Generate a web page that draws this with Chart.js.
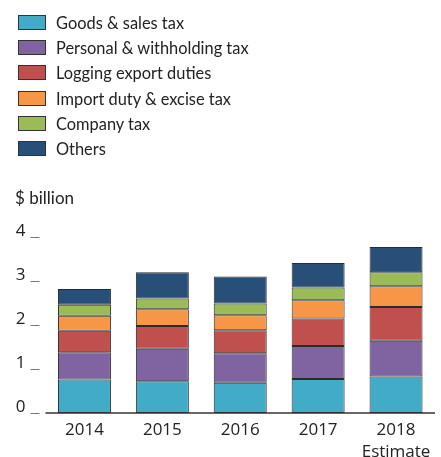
<!DOCTYPE html>
<html>
<head>
<meta charset="utf-8">
<script src="https://cdn.jsdelivr.net/npm/chart.js@4.4.1/dist/chart.umd.min.js"></script>
<style>
  html, body { margin: 0; padding: 0; background: #fff; }
  #wrap { position: relative; width: 441px; height: 457px; }
  #chart { position: absolute; left: 0; top: 0; }
  #legend { position: absolute; left: 18px; top: 10px; margin: 0; padding: 0; list-style: none;
    font-family: Lato, "Open Sans", sans-serif; font-size: 16.4px; color: #222; }
  #legend li { display: flex; align-items: center; height: 25.2px; line-height: 25.2px; }
  #legend span.box { display: inline-block; width: 28px; height: 15px; border: 1px solid #333;
    margin-right: 10px; box-sizing: border-box; }
  #unit { position: absolute; left: 15px; top: 187px; font-family: Lato, "Open Sans", sans-serif;
    font-size: 17px; color: #222; }
</style>
</head>
<body>
<div id="wrap">
  <canvas id="chart" width="441" height="457"></canvas>
  <ul id="legend"></ul>
  <div id="unit">$ billion</div>
</div>
<script>
// ---------- data ($ billion) ----------
const YEARS = ["2014", "2015", "2016", "2017", ["2018", "Estimate"]];
const Y_TICKS = [0, 1, 2, 3, 4];

const goodsSales = [0.76, 0.72, 0.69, 0.77, 0.83];
const personalWithholding = [0.62, 0.74, 0.67, 0.75, 0.81];
const loggingExport = [0.49, 0.52, 0.52, 0.63, 0.77];
const importExcise = [0.34, 0.38, 0.34, 0.41, 0.47];
const companyTax = [0.25, 0.24, 0.27, 0.29, 0.32];
const others = [0.36, 0.60, 0.61, 0.56, 0.57];

const SERIES = [
  { label: "Goods & sales tax", data: goodsSales, color: "#42abc7" },
  { label: "Personal & withholding tax", data: personalWithholding, color: "#8064a2" },
  { label: "Logging export duties", data: loggingExport, color: "#c0504d" },
  { label: "Import duty & excise tax", data: importExcise, color: "#f79646" },
  { label: "Company tax", data: companyTax, color: "#9bbb59" },
  { label: "Others", data: others, color: "#274f77" },
];

const NUM_FONT = { family: "'Open Sans', sans-serif", size: 17, lineHeight: 1.3 };

// legend list in the top-left corner
const legendEl = document.getElementById("legend");
SERIES.forEach((s) => {
  const li = document.createElement("li");
  const box = document.createElement("span");
  box.className = "box";
  box.style.background = s.color;
  li.appendChild(box);
  li.appendChild(document.createTextNode(s.label));
  legendEl.appendChild(li);
});

// short grey dashes left of the y labels, plus the baseline
const axisMarks = {
  id: "axisMarks",
  afterDraw(chart) {
    const { ctx, chartArea, scales } = chart;
    ctx.save();
    ctx.strokeStyle = "#777";
    ctx.lineWidth = 1;
    scales.y.ticks.forEach((t) => {
      const y = Math.round(scales.y.getPixelForValue(t.value)) + 0.5;
      ctx.beginPath();
      ctx.moveTo(chartArea.left - 15, y);
      ctx.lineTo(chartArea.left - 6, y);
      ctx.stroke();
    });
    const y0 = scales.y.getPixelForValue(0);
    ctx.strokeStyle = "#333";
    ctx.lineWidth = 1.5;
    ctx.beginPath();
    ctx.moveTo(chartArea.left, y0);
    ctx.lineTo(chartArea.right, y0);
    ctx.stroke();
    ctx.restore();
  },
};

new Chart(document.getElementById("chart"), {
  type: "bar",
  data: {
    labels: YEARS,
    datasets: SERIES.map((s) => ({
      label: s.label,
      data: s.data,
      backgroundColor: s.color,
      borderColor: "#2b2b2b",
      borderWidth: 1,
      borderSkipped: false,
      barPercentage: 0.68,
      categoryPercentage: 1,
    })),
  },
  options: {
    responsive: false,
    animation: false,
    layout: { padding: { top: 237, left: 0, right: 6, bottom: 0 } },
    plugins: {
      legend: { display: false },
      tooltip: { enabled: false },
    },
    scales: {
      x: {
        stacked: true,
        afterFit: (axis) => { axis.height = 44; },
        grid: { display: false, drawTicks: false },
        border: { display: false },
        ticks: { color: "#222", font: NUM_FONT, padding: 6, maxRotation: 0 },
      },
      y: {
        stacked: true,
        min: 0,
        max: 4,
        afterBuildTicks: (axis) => {
          axis.ticks = Y_TICKS.map((v) => ({ value: v }));
        },
        afterFit: (axis) => { axis.width = 45.5; },
        grid: { display: false, drawTicks: false },
        border: { display: false },
        ticks: { color: "#222", font: NUM_FONT, padding: 20, labelOffset: -6 },
      },
    },
  },
  plugins: [axisMarks],
});
</script>
</body>
</html>
